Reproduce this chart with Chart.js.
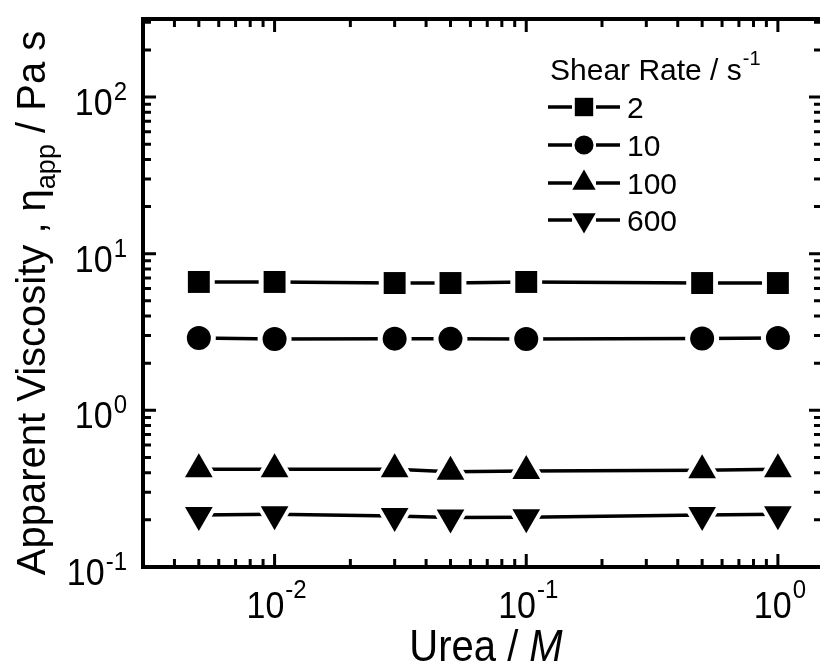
<!DOCTYPE html>
<html>
<head>
<meta charset="utf-8">
<script src="https://cdn.jsdelivr.net/npm/chart.js@4.4.1/dist/chart.umd.min.js"></script>
<style>
  html, body { margin: 0; padding: 0; overflow: hidden; background: #fff; }
  canvas { display: block; }
</style>
</head>
<body>
<canvas id="viscChart" width="820" height="669"></canvas>
<script>
// urea concentration (M) and apparent viscosity (Pa s) per shear rate
const urea = [0.005, 0.01, 0.03, 0.05, 0.1, 0.5, 1];
const shearRates = ['2', '10', '100', '600'];
const eta2 = [6.6, 6.6, 6.5, 6.5, 6.6, 6.5, 6.5];
const eta10 = [2.9, 2.85, 2.87, 2.86, 2.85, 2.88, 2.9];
const eta100 = [0.42, 0.42, 0.42, 0.405, 0.41, 0.415, 0.42];
const eta600 = [0.215, 0.217, 0.212, 0.207, 0.208, 0.215, 0.217];
const xTickLabels = ['-2', '-1', '0'];       // exponents of 10^n
const xTickValues = [0.01, 0.1, 1];
const yTickLabels = ['-1', '0', '1', '2'];
const yTickValues = [0.1, 1, 10, 100];

const FONT = "'Liberation Sans', Arial, sans-serif";
const seriesValues = [eta2, eta10, eta100, eta600];
const markers = [
  { pointStyle: 'rect', radius: 15.5, rotation: 0, gap: 7, legendRadius: 13 },
  { pointStyle: 'circle', radius: 12, rotation: 0, gap: 5, legendRadius: 9.5 },
  { pointStyle: 'triangle', radius: 16, rotation: 0, gap: 8, legendRadius: 13.5 },
  { pointStyle: 'triangle', radius: 16, rotation: 180, gap: 8, legendRadius: 13.5 }
];

const datasets = [];
seriesValues.forEach((vals, i) => {
  const pts = urea.map((x, j) => ({ x: x, y: vals[j] }));
  const m = markers[i];
  // connecting line
  datasets.push({ label: shearRates[i], data: pts, borderColor: '#000', borderWidth: 3.5,
    pointRadius: 0, fill: false, tension: 0, order: 3 });
  // white halo so the line stops short of the symbol
  datasets.push({ label: shearRates[i] + ' gap', data: pts, showLine: false,
    pointStyle: m.pointStyle, pointRotation: m.rotation, pointRadius: m.radius + m.gap,
    pointBackgroundColor: '#fff', pointBorderWidth: 0, order: 2 });
  // symbol
  datasets.push({ label: shearRates[i] + ' pts', data: pts, showLine: false,
    pointStyle: m.pointStyle, pointRotation: m.rotation, pointRadius: m.radius,
    pointBackgroundColor: '#000', pointBorderWidth: 0, order: 1 });
});

// text with a slight vertical stretch like the original figure
function stretched(ctx, s, x, y, size, align, italic) {
  ctx.save();
  ctx.font = (italic ? 'italic ' : '') + size + 'px ' + FONT;
  ctx.textAlign = align || 'left';
  ctx.textBaseline = 'alphabetic';
  ctx.translate(x, y);
  ctx.scale(1, 1.1);
  ctx.fillText(s, 0, 0);
  ctx.restore();
}

function width(ctx, s, size, italic) {
  ctx.font = (italic ? 'italic ' : '') + size + 'px ' + FONT;
  return ctx.measureText(s).width;
}

// "10" with superscript exponent; anchor 'right' or 'center'
function power(ctx, exp, x, y, supUp, anchor) {
  const wb = width(ctx, '10', 34);
  const we = width(ctx, exp, 24);
  const total = wb + 1 + we;
  const left = anchor === 'right' ? x - total : x - total / 2;
  stretched(ctx, '10', left, y, 34);
  stretched(ctx, exp, left + wb + 1, y - supUp, 24);
}

function decadeTicks(min, max) {
  const out = [];
  for (let e = Math.floor(Math.log10(min)); e <= Math.ceil(Math.log10(max)); e++) {
    for (let k = 1; k <= 9; k++) {
      const v = k * Math.pow(10, e);
      if (v >= min * 0.999 && v <= max * 1.001) out.push({ v: v, major: k === 1 });
    }
  }
  return out;
}

const framePlugin = {
  id: 'frame',
  afterDraw(chart) {
    const ctx = chart.ctx;
    const a = chart.chartArea;
    const xs = chart.scales.x, ys = chart.scales.y;
    ctx.save();
    ctx.fillStyle = '#000';
    ctx.strokeStyle = '#000';

    // frame; the right side sits just past the edge of the picture
    ctx.lineWidth = 4;
    ctx.strokeRect(a.left, a.top, a.right + 4 - a.left, a.bottom - a.top);

    // inward ticks on all four sides
    ctx.lineWidth = 3;
    ctx.beginPath();
    decadeTicks(xs.min, xs.max).forEach(t => {
      const px = xs.getPixelForValue(t.v);
      const len = t.major ? 13 : 8;
      ctx.moveTo(px, a.bottom); ctx.lineTo(px, a.bottom - len);
      ctx.moveTo(px, a.top); ctx.lineTo(px, a.top + len);
    });
    decadeTicks(ys.min, ys.max).forEach(t => {
      const py = ys.getPixelForValue(t.v);
      const len = t.major ? 13 : 8;
      ctx.moveTo(a.left, py); ctx.lineTo(a.left + len, py);
      ctx.moveTo(a.right + 2, py); ctx.lineTo(a.right + 2 - len, py);
    });
    ctx.stroke();

    // tick labels
    xTickValues.forEach((v, i) => {
      power(ctx, xTickLabels[i], xs.getPixelForValue(v) + 2, a.bottom + 51, 20, 'center');
    });
    yTickValues.forEach((v, i) => {
      power(ctx, yTickLabels[i], 127, ys.getPixelForValue(v) + 18, 15, 'right');
    });

    // x title: Urea / M (italic M)
    const t1 = 'Urea / ', t2 = 'M';
    const w1 = width(ctx, t1, 40), w2 = width(ctx, t2, 40, true);
    const xl = 486 - (w1 + w2) / 2;
    stretched(ctx, t1, xl, 661, 40);
    stretched(ctx, t2, xl + w1, 661, 40, 'left', true);

    // y title, rotated
    const parts = [
      { s: 'Apparent Viscosity , \u03b7', size: 40, dy: 0 },
      { s: 'app', size: 27, dy: 10 },
      { s: ' / Pa s', size: 40, dy: 0 }
    ];
    const total = parts.reduce((acc, p) => acc + width(ctx, p.s, p.size), 0);
    ctx.save();
    ctx.translate(45, 303);
    ctx.rotate(-Math.PI / 2);
    let cx = -total / 2;
    parts.forEach(p => {
      ctx.font = p.size + 'px ' + FONT;
      ctx.textAlign = 'left';
      ctx.fillText(p.s, cx, p.dy);
      cx += ctx.measureText(p.s).width;
    });
    ctx.restore();

    // legend
    ctx.font = '30px ' + FONT;
    ctx.textAlign = 'left';
    ctx.fillText('Shear Rate / s', 550, 80);
    const wt = width(ctx, 'Shear Rate / s', 30);
    ctx.font = '20px ' + FONT;
    ctx.fillText('-1', 550 + wt + 1, 65);
    const rowY = [107, 145, 183, 220];
    shearRates.forEach((lab, i) => {
      const y = rowY[i];
      const m = markers[i];
      ctx.lineWidth = 3.5;
      ctx.beginPath();
      ctx.moveTo(548, y); ctx.lineTo(572, y);
      ctx.moveTo(596, y); ctx.lineTo(620, y);
      ctx.stroke();
      Chart.helpers.drawPoint(ctx, { pointStyle: m.pointStyle, radius: m.legendRadius,
        rotation: m.rotation, borderWidth: 0 }, 584, y);
      ctx.font = '30px ' + FONT;
      ctx.fillText(lab, 627, y + 11);
    });
    ctx.restore();
  }
};

new Chart(document.getElementById('viscChart'), {
  type: 'line',
  data: { datasets: datasets },
  options: {
    responsive: false,
    devicePixelRatio: 1,
    animation: false,
    events: [],
    layout: { autoPadding: false, padding: { left: 143, top: 19, right: 0, bottom: 102 } },
    plugins: { legend: { display: false }, tooltip: { enabled: false } },
    scales: {
      x: { type: 'logarithmic', min: 0.003, max: 1.47, display: false },
      y: { type: 'logarithmic', min: 0.1, max: 315, display: false }
    }
  },
  plugins: [framePlugin]
});
</script>
</body>
</html>
